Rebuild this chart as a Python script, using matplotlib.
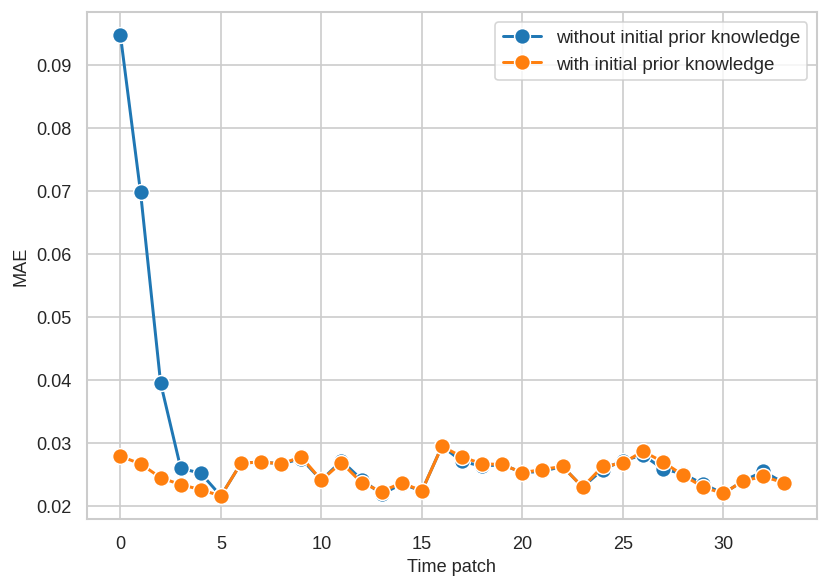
import matplotlib
matplotlib.use("Agg")
import matplotlib.pyplot as plt
import seaborn as sns
import numpy as np

time_patch = list(range(34))
without_prior = [0.0947, 0.0698, 0.0395, 0.0260, 0.0252, 0.0216, 0.0268, 0.0270, 0.0267, 0.0275,
                 0.0241, 0.0272, 0.0242, 0.0219, 0.0235, 0.0224, 0.0295, 0.0271, 0.0263, 0.0266,
                 0.0253, 0.0255, 0.0263, 0.0230, 0.0258, 0.0272, 0.0281, 0.0259, 0.0251, 0.0235,
                 0.0220, 0.0240, 0.0255, 0.0237]
with_prior = [0.0279, 0.0267, 0.0245, 0.0234, 0.0226, 0.0216, 0.0268, 0.0270, 0.0267, 0.0278,
              0.0241, 0.0269, 0.0237, 0.0223, 0.0237, 0.0224, 0.0295, 0.0278, 0.0267, 0.0266,
              0.0253, 0.0258, 0.0263, 0.0230, 0.0263, 0.0268, 0.0287, 0.0270, 0.0249, 0.0230,
              0.0220, 0.0240, 0.0247, 0.0237]
labels = ["without initial prior knowledge", "with initial prior knowledge"]

sns.set_theme(style="whitegrid")
plt.rcParams['font.family'] = ['Liberation Sans', 'DejaVu Sans']

fig, ax = plt.subplots(figsize=(7, 4.967), dpi=118.57)
colors = ["#1f77b4", "#ff7f0e"]
for ys, lab, c in zip([without_prior, with_prior], labels, colors):
    ax.plot(time_patch, ys, color=c, lw=1.8, marker='o', markersize=9.6,
            markeredgecolor='white', markeredgewidth=0.9, label=lab)

ax.set_xlabel("Time patch", fontsize=11)
ax.set_ylabel("MAE", fontsize=11)
ax.tick_params(labelsize=11)
ax.set_yticks([0.02, 0.03, 0.04, 0.05, 0.06, 0.07, 0.08, 0.09])
ax.set_yticklabels(["0.02", "0.03", "0.04", "0.05", "0.06", "0.07", "0.08", "0.09"])
ax.legend(loc="upper right", fontsize=11.4)
fig.subplots_adjust(left=87.3/830, right=816.7/830, top=1-13.3/589, bottom=1-520/589)
fig.savefig("out.png", dpi=118.57)
